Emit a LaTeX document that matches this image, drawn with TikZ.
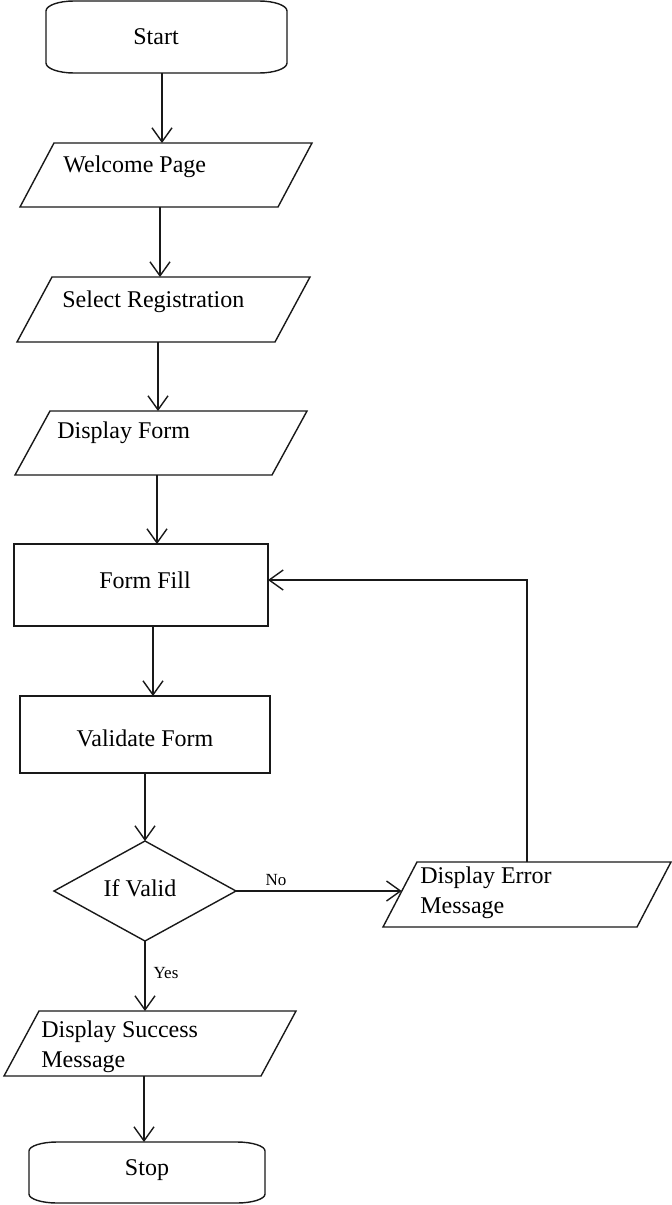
\documentclass[tikz,border=0pt]{standalone}
\usepackage{fontspec}
\setmainfont{Liberation Serif}
\usetikzlibrary{arrows.meta,shapes.geometric,calc}

% outline of an input/output box: a parallelogram inside the node's box
\newcommand\slantoutline[2]{%
  \draw[outline] ([xshift=#2]#1.north west) -- (#1.north east)
    -- ([xshift=-#2]#1.south east) -- (#1.south west) -- cycle;}
% outline of a start/stop box: flat sides with wide, shallow corners
\newcommand\termoutline[3]{%
  \draw[outline] ([xshift=#2]#1.north west) -- ([xshift=-#2]#1.north east)
    arc[start angle=90,end angle=0,x radius=#2,y radius=#3]
    -- ([yshift=#3]#1.south east)
    arc[start angle=0,end angle=-90,x radius=#2,y radius=#3]
    -- ([xshift=#2]#1.south west)
    arc[start angle=270,end angle=180,x radius=#2,y radius=#3]
    -- ([yshift=-#3]#1.north west)
    arc[start angle=180,end angle=90,x radius=#2,y radius=#3] -- cycle;}

\tikzset{
  outline/.style={line width=0.7pt, draw=black!90, line join=miter},
  frame/.style={inner sep=0pt, outer sep=0pt, draw=none},
  procbox/.style={frame, outline, draw=black!90},
  decision/.style={diamond, frame, outline, draw=black!90},
  lbl/.style={inner sep=0pt, font=\fontsize{12}{15}\selectfont},
  tag/.style={inner sep=0pt, font=\fontsize{8.5}{10}\selectfont},
  arr/.style={line width=0.7pt, draw=black!90,
    -{Straight Barb[length=7pt,width=10pt,line width=0.7pt]}},
}

\begin{document}
\begin{tikzpicture}[x=0.5pt,y=-0.5pt]
\useasboundingbox (0,0) rectangle (671,1205);

% shape frames
\node[frame, minimum width=120.5pt, minimum height=36pt]   (start)    at (166.5,37)    {};
\node[frame, minimum width=146pt,   minimum height=32pt]   (welcome)  at (166,175)     {};
\node[frame, minimum width=146.5pt, minimum height=32.5pt] (select)   at (163.5,309.5) {};
\node[frame, minimum width=146pt,   minimum height=32pt]   (dispform) at (161,443)     {};
\node[procbox, minimum width=127pt, minimum height=41pt]   (formfill) at (141,585)     {};
\node[procbox, minimum width=125pt, minimum height=38.5pt] (validate) at (145,734.5)   {};
\node[decision, minimum width=91pt, minimum height=50pt]   (ifvalid)  at (145,891)     {};
\node[frame, minimum width=144pt,   minimum height=32.5pt] (err)      at (527,894.5)   {};
\node[frame, minimum width=146pt,   minimum height=32.5pt] (success)  at (150,1043.5)  {};
\node[frame, minimum width=118pt,   minimum height=30.5pt] (stop)     at (147,1172.5)  {};

% outlines
\termoutline{start}{14pt}{5pt}
\slantoutline{welcome}{17pt}
\slantoutline{select}{17.5pt}
\slantoutline{dispform}{17.5pt}
\slantoutline{err}{17pt}
\slantoutline{success}{17.5pt}
\termoutline{stop}{14pt}{4.5pt}

% texts
\node[lbl]              (start-t)    at (156,37)    {Start};
\node[lbl, anchor=west] (welcome-t)  at (63,167)    {Welcome Page};
\node[lbl, anchor=west] (select-t)   at (62,302)    {Select Registration};
\node[lbl, anchor=west] (dispform-t) at (57,433)    {Display Form};
\node[lbl]              (formfill-t) at (145,580)   {Form Fill};
\node[lbl]              (validate-t) at (145,738)   {Validate Form};
\node[lbl]              (ifvalid-t)  at (140,888)   {If Valid};
\node[lbl, anchor=west, align=left] (err-t)     at (420,893)    {Display Error\\Message};
\node[lbl, anchor=west, align=left] (success-t) at (41,1046.5)  {Display Success\\Message};
\node[lbl]              (stop-t)     at (147,1170)  {Stop};
\node[tag]              (no-t)       at (276,880)   {No};
\node[tag]              (yes-t)      at (166,973)   {Yes};

% entry point on the slanted left side of the error box
\path ($(err.south west)!0.55!([xshift=17pt]err.north west)$) coordinate (errin);

% connectors
\draw[arr] ([xshift=-2.25pt]start.south)  -- ([xshift=-2.25pt]start.south |- welcome.north);
\draw[arr] ([xshift=-3pt]welcome.south)   -- ([xshift=-3pt]welcome.south |- select.north);
\draw[arr] ([xshift=-2.75pt]select.south) -- ([xshift=-2.75pt]select.south |- dispform.north);
\draw[arr] ([xshift=-2pt]dispform.south)  -- ([xshift=-2pt]dispform.south |- formfill.north);
\draw[arr] ([xshift=6pt]formfill.south)   -- ([xshift=6pt]formfill.south |- validate.north);
\draw[arr] (validate.south -| ifvalid.north) -- (ifvalid.north);
\draw[arr] (ifvalid.east) -- (ifvalid.east -| errin);
\draw[arr] (err.north) |- ([yshift=2.5pt]formfill.east);
\draw[arr] (ifvalid.south) -- (ifvalid.south |- success.north);
\draw[arr] ([xshift=-3pt]success.south)   -- ([xshift=-3pt]success.south |- stop.north);
\end{tikzpicture}
\end{document}
